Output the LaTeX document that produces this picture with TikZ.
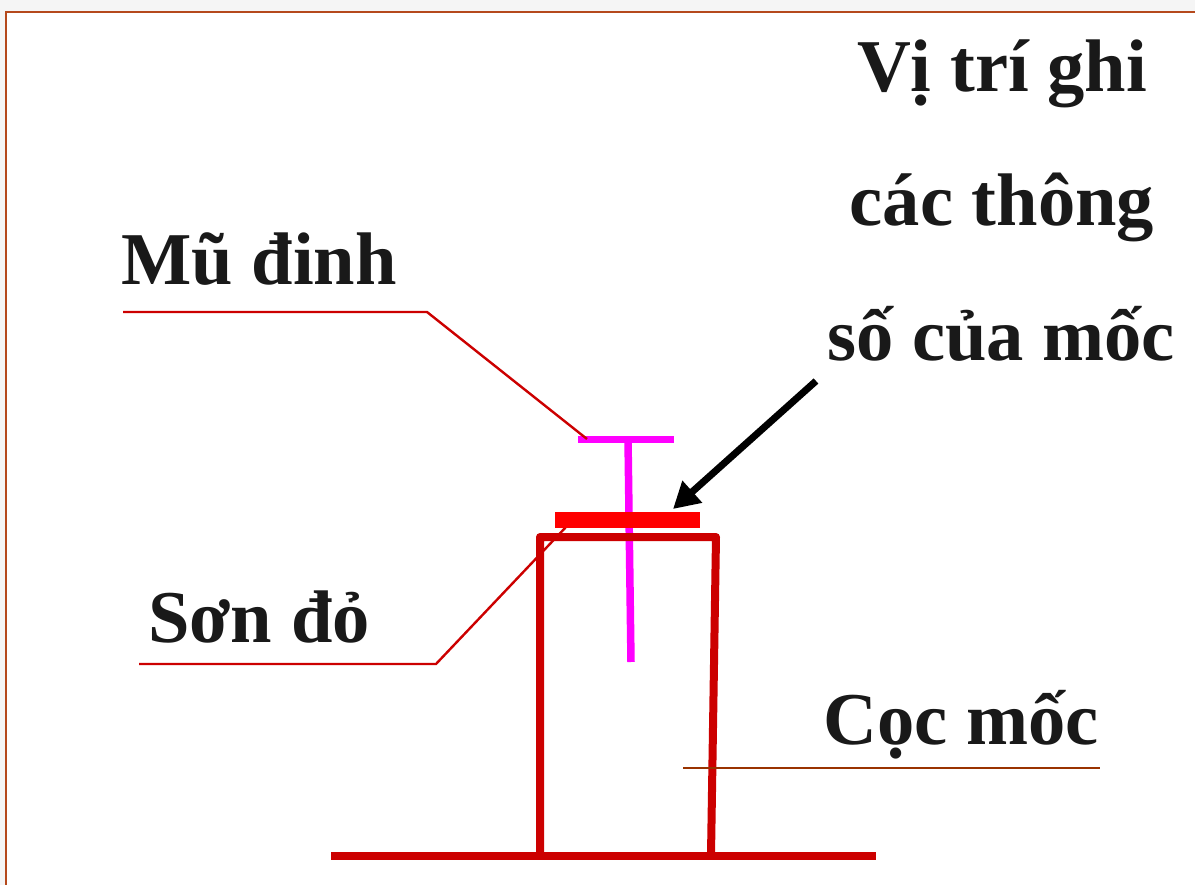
\documentclass[tikz,border=0pt]{standalone}
\usepackage{fontspec}
\setmainfont{Liberation Serif}
\usetikzlibrary{arrows.meta}
\definecolor{frameC}{HTML}{B5491C}
\definecolor{postC}{HTML}{CC0000}
\definecolor{brownC}{HTML}{993300}
\definecolor{pageC}{HTML}{F5F5F5}
\definecolor{magentaC}{HTML}{FF00FF}
\definecolor{redC}{HTML}{FF0000}
\tikzset{
  label text/.style={font=\fontsize{74.5}{74.5}\selectfont\bfseries, text=black!90, inner sep=0pt, anchor=base},
  leader/.style={draw=postC, line width=2.4pt},
  magenta bar/.style={draw=magentaC, line width=7.5pt},
  post/.style={draw=postC, line width=8pt, line join=round},
}
\begin{document}
\begin{tikzpicture}[x=1pt,y=-1pt]
\useasboundingbox (0,0) rectangle (1195,885);
\fill[pageC] (0,0) rectangle (1195,885);
\fill[white] (6,12) rectangle (1195,885);
\draw[frameC, line width=2pt] (6,885) -- (6,12) -- (1195,12);

\node[label text] (t1) at (1002,92) {Vị trí ghi};
\node[label text] (t2) at (1002,226) {các thông};
\node[label text] (t3) at (1001,361) {số của mốc};
\node[label text] (mu) at (259,285) {Mũ đinh};
\node[label text] (son) at (259,642) {Sơn đỏ};
\node[label text] (coc) at (961,744) {Cọc mốc};

\coordinate (muA) at (123,312);
\coordinate (muB) at (427,312);
\coordinate (muC) at (587,439);
\coordinate (sonA) at (139,664);
\coordinate (sonB) at (436,664);
\coordinate (sonC) at (566,527);
\coordinate (cocA) at (683,768);
\coordinate (cocB) at (1100,768);
\coordinate (tl) at (578,439.5);
\coordinate (tr) at (674,439.5);
\coordinate (tt) at (628,439);
\coordinate (tb) at (631,662);
\coordinate (pbl) at (540,855);
\coordinate (ptl) at (540,537);
\coordinate (ptr) at (716,537);
\coordinate (pbr) at (711,855);
\coordinate (bl) at (331,856);
\coordinate (br) at (876,856);
\coordinate (rl) at (555,519.5);
\coordinate (rr) at (700,519.5);
\coordinate (arA) at (816,381);
\coordinate (arB) at (673,509);

\draw[magenta bar] (tl) -- (tr);
\draw[magenta bar] (tt) -- (tb);
\draw[leader] (sonA) -- (sonB) -- (sonC);
\draw[post] (pbl) -- (ptl) -- (ptr) -- (pbr);
\draw[post] (bl) -- (br);
\draw[draw=redC, line width=16pt] (rl) -- (rr);
\draw[leader] (muA) -- (muB) -- (muC);
\draw[draw=brownC, line width=1.8pt] (cocA) -- (cocB);
\draw[line width=7pt, -{Triangle[length=26pt,width=28pt]}] (arA) -- (arB);
\end{tikzpicture}
\end{document}
